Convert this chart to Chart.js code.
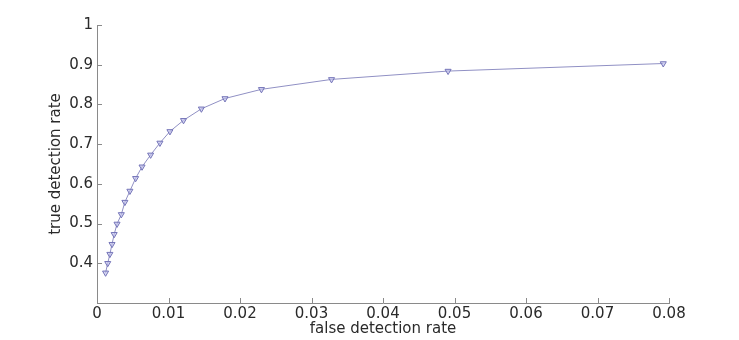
<!DOCTYPE html>
<html>
<head>
<meta charset="utf-8">
<script src="https://cdn.jsdelivr.net/npm/chart.js@4"></script>
<style>
  html, body { margin: 0; padding: 0; background: #fff; }
  #wrap { width: 739px; height: 340px; }
</style>
</head>
<body>
<div id="wrap"><canvas id="rocChart" width="739" height="340"></canvas></div>
<script>
// values
var falseRate = [0.0012, 0.0015, 0.0018, 0.0021, 0.0024, 0.0028, 0.0034, 0.0039, 0.0046, 0.0054,
                 0.0063, 0.0075, 0.0088, 0.0102, 0.0121, 0.0146, 0.0179, 0.0230, 0.0328, 0.0491, 0.0792];
var trueRate = [0.376, 0.400, 0.423, 0.448, 0.473, 0.499, 0.523, 0.554, 0.582, 0.614,
                0.643, 0.673, 0.703, 0.732, 0.760, 0.789, 0.815, 0.838, 0.863, 0.884, 0.903];

var xTicks = [0, 0.01, 0.02, 0.03, 0.04, 0.05, 0.06, 0.07, 0.08];
var xTickLabels = ["0", "0.01", "0.02", "0.03", "0.04", "0.05", "0.06", "0.07", "0.08"];
var yTicks = [0.4, 0.5, 0.6, 0.7, 0.8, 0.9, 1];
var yTickLabels = ["0.4", "0.5", "0.6", "0.7", "0.8", "0.9", "1"];

var textColor = "#2a2a2a";
var axisColor = "#8a8a8a";
var fontFamily = "'DejaVu Sans', Verdana, sans-serif";

// matlab style ticks pointing into the plot
var inwardTicks = {
    id: "inwardTicks",
    afterDraw: function (chart) {
        var ctx = chart.ctx;
        var xs = chart.scales.x, ys = chart.scales.y;
        var area = chart.chartArea;
        ctx.save();
        ctx.strokeStyle = axisColor;
        ctx.lineWidth = 1;
        ctx.beginPath();
        xTicks.forEach(function (v) {
            var px = Math.round(xs.getPixelForValue(v)) + 0.5;
            ctx.moveTo(px, area.bottom);
            ctx.lineTo(px, area.bottom - 5);
        });
        yTicks.forEach(function (v) {
            var py = Math.round(ys.getPixelForValue(v)) + 0.5;
            ctx.moveTo(area.left, py);
            ctx.lineTo(area.left + 5, py);
        });
        ctx.stroke();
        ctx.restore();
    }
};

var points = falseRate.map(function (x, i) { return { x: x, y: trueRate[i] }; });

var config = {
    type: "scatter",
    data: {
        datasets: [{
            data: points,
            showLine: true,
            borderColor: "#9090c4",
            borderWidth: 1,
            pointStyle: "triangle",
            rotation: 180,
            pointRadius: 3.5,
            pointBorderColor: "#7474b8",
            pointBackgroundColor: "rgba(190,190,235,0.6)",
            pointBorderWidth: 1
        }]
    },
    plugins: [inwardTicks],
    options: {
        responsive: false,
        animation: false,
        layout: { padding: { top: 25, right: 70, left: 0, bottom: 0 } },
        plugins: {
            legend: { display: false },
            tooltip: { enabled: false }
        },
        scales: {
            x: {
                type: "linear",
                min: 0,
                max: 0.08,
                afterBuildTicks: function (scale) {
                    scale.ticks = xTicks.map(function (v) { return { value: v }; });
                },
                afterFit: function (scale) { scale.height = 37; },
                ticks: {
                    color: textColor,
                    font: { family: fontFamily, size: 15 },
                    padding: 2,
                    maxRotation: 0,
                    callback: function (v, i) { return xTickLabels[i]; }
                },
                grid: { drawOnChartArea: false, drawTicks: false },
                border: { display: true, color: axisColor, width: 1 },
                title: {
                    display: true,
                    text: "false detection rate",
                    color: textColor,
                    font: { family: fontFamily, size: 15 },
                    padding: { top: 0, bottom: 2 }
                }
            },
            y: {
                type: "linear",
                min: 0.3,
                max: 1,
                afterBuildTicks: function (scale) {
                    scale.ticks = yTicks.map(function (v) { return { value: v }; });
                },
                afterFit: function (scale) { scale.width = 97; },
                ticks: {
                    color: textColor,
                    font: { family: fontFamily, size: 15 },
                    padding: 4,
                    callback: function (v, i) { return yTickLabels[i]; }
                },
                grid: { drawOnChartArea: false, drawTicks: false },
                border: { display: true, color: axisColor, width: 1 },
                title: {
                    display: true,
                    text: "true detection rate",
                    color: textColor,
                    font: { family: fontFamily, size: 15 },
                    padding: { top: 47, bottom: 0 }
                }
            }
        }
    }
};

var rocChart = new Chart(document.getElementById("rocChart"), config);
</script>
</body>
</html>
